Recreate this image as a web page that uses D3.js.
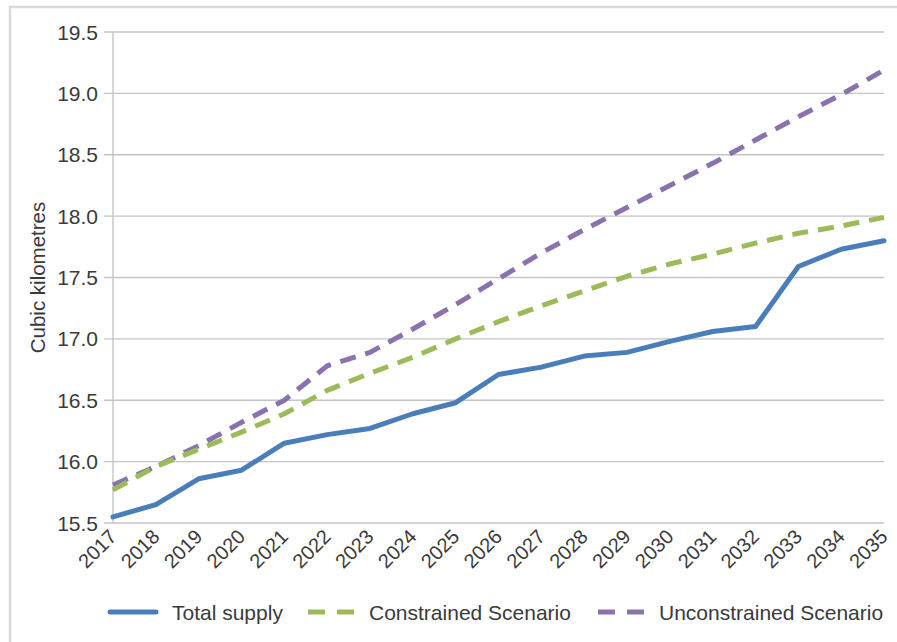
<!DOCTYPE html>
<html>
<head>
<meta charset="utf-8">
<script src="https://cdn.jsdelivr.net/npm/d3@7"></script>
<style>
  body { margin: 0; background: #fff; }
  svg text { font-family: "Liberation Sans", Arial, sans-serif; fill: #3a3a3a; }
</style>
</head>
<body>
<main></main>
<script>
const years = ['2017','2018','2019','2020','2021','2022','2023','2024','2025','2026','2027','2028','2029','2030','2031','2032','2033','2034','2035'];
const totalSupply = [15.55, 15.65, 15.86, 15.93, 16.15, 16.22, 16.27, 16.39, 16.48, 16.71, 16.77, 16.86, 16.89, 16.98, 17.06, 17.10, 17.59, 17.73, 17.80];
const constrained = [15.77, 15.96, 16.10, 16.24, 16.39, 16.58, 16.72, 16.85, 17.00, 17.14, 17.27, 17.39, 17.51, 17.61, 17.69, 17.78, 17.86, 17.92, 17.99];
const unconstrained = [15.81, 15.96, 16.13, 16.32, 16.50, 16.78, 16.89, 17.08, 17.28, 17.49, 17.70, 17.89, 18.07, 18.25, 18.43, 18.62, 18.81, 18.99, 19.19];
const yTicks = [15.5, 16.0, 16.5, 17.0, 17.5, 18.0, 18.5, 19.0, 19.5];
const seriesNames = ['Total supply', 'Constrained Scenario', 'Unconstrained Scenario'];

const W = 897, H = 642;
const plotLeft = 113, plotRight = 884, plotTop = 32, plotBottom = 523;

const svg = d3.select('main').append('svg')
	.attr('width', W)
	.attr('height', H);

// outer frame
svg.append('path')
	.attr('d', `M10,${H + 5}V7H${W + 5}`)
	.attr('fill', 'none')
	.attr('stroke', '#d9d9d9')
	.attr('stroke-width', 2.5);

const x = d3.scalePoint().domain(years).range([plotLeft, plotRight]);
const y = d3.scaleLinear().domain([15.5, 19.5]).range([plotBottom, plotTop]);

// gridlines
svg.append('g')
	.selectAll('line')
	.data(yTicks)
	.join('line')
	.attr('x1', plotLeft - 9)
	.attr('x2', plotRight)
	.attr('y1', (d) => y(d))
	.attr('y2', (d) => y(d))
	.attr('stroke', '#c4c4c4')
	.attr('stroke-width', 1.4);

// y axis line
svg.append('line')
	.attr('x1', plotLeft).attr('x2', plotLeft)
	.attr('y1', plotTop).attr('y2', plotBottom)
	.attr('stroke', '#c4c4c4')
	.attr('stroke-width', 1.4);

// y tick labels
svg.append('g')
	.selectAll('text')
	.data(yTicks)
	.join('text')
	.attr('x', 98)
	.attr('y', (d) => y(d))
	.attr('dy', '0.36em')
	.attr('text-anchor', 'end')
	.style('font-size', '21px')
	.text((d) => d.toFixed(1));

// x tick labels
svg.append('g')
	.selectAll('text')
	.data(years)
	.join('text')
	.attr('transform', (d) => `translate(${x(d)},${plotBottom + 10}) rotate(-45)`)
	.attr('dy', '0.35em')
	.attr('text-anchor', 'end')
	.style('font-size', '20px')
	.text((d) => d);

// y title
svg.append('text')
	.attr('transform', `translate(45,${(plotTop + plotBottom) / 2}) rotate(-90)`)
	.attr('text-anchor', 'middle')
	.style('font-size', '20.5px')
	.text('Cubic kilometres');

const line = d3.line()
	.x((d, i) => x(years[i]))
	.y((d) => y(d));

const series = [
	{ name: seriesNames[0], values: totalSupply, color: '#4a7ebb', dash: null },
	{ name: seriesNames[1], values: constrained, color: '#9bbb59', dash: '16,10' },
	{ name: seriesNames[2], values: unconstrained, color: '#8a72ae', dash: '16,10' }
];

// draw back to front so total supply sits on top
series.slice().reverse().forEach((s) => {
	svg.append('path')
		.datum(s.values)
		.attr('d', line)
		.attr('fill', 'none')
		.attr('stroke', s.color)
		.attr('stroke-width', 5)
		.attr('stroke-linejoin', 'round')
		.attr('stroke-linecap', s.dash ? 'butt' : 'round')
		.attr('stroke-dasharray', s.dash);
});

// legend
const legendX = [110, 308, 598];
const legendY = 612;
const legend = svg.append('g')
	.selectAll('g')
	.data(series)
	.join('g')
	.attr('transform', (d, i) => `translate(${legendX[i]},${legendY})`);

legend.append('line')
	.attr('x1', 0)
	.attr('x2', 46)
	.attr('y1', 0).attr('y2', 0)
	.attr('stroke', (d) => d.color)
	.attr('stroke-width', 5)
	.attr('stroke-linecap', (d) => d.dash ? 'butt' : 'round')
	.attr('stroke-dasharray', (d) => d.dash ? '17,12' : null);

legend.append('text')
	.attr('x', (d) => d.dash ? 61 : 62)
	.attr('dy', '0.36em')
	.style('font-size', '21px')
	.text((d) => d.name);
</script>
</body>
</html>
